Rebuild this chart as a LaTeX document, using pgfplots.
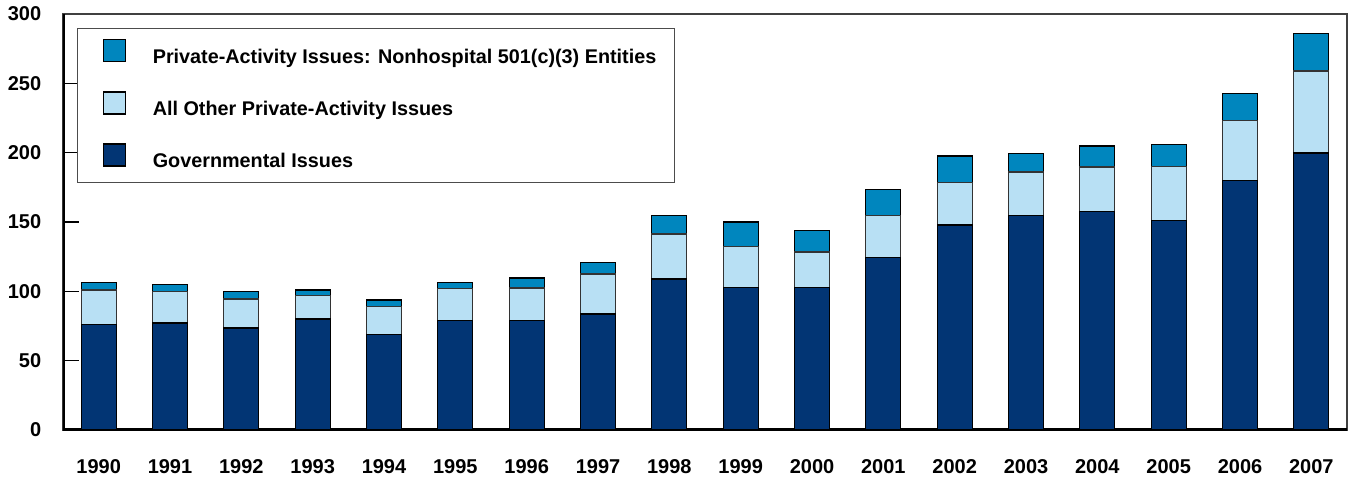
\documentclass[border=0pt]{standalone}
\usepackage{fontspec}
\setmainfont{Liberation Sans}
\usepackage{pgfplots}
\usepackage{pgfplotstable}
\pgfplotsset{compat=1.18}
\definecolor{govc}{RGB}{2,53,116}
\definecolor{othc}{RGB}{184,224,244}
\definecolor{nonc}{RGB}{0,134,190}
\pgfplotstableread{
x gov other non
0 76 25 5.5
1 77.2 22.8 5
2 73.6 20.9 5.5
3 80 16.9 4.1
4 68.8 20.4 4.6
5 78.8 23 4.6
6 78.8 23.6 7.2
7 83.7 28.8 8.4
8 108.9 32.4 13.5
9 102.9 29.6 17.5
10 102.9 25.5 15.6
11 124.3 30.5 18.8
12 147.8 30.8 19
13 154.6 31.4 13.5
14 157.5 32.2 15.1
15 151 39.1 15.9
16 179.8 43.5 19.5
17 199.8 59.1 27.1
}\data
\begin{document}
\begin{tikzpicture}
\begin{axis}[
  scale only axis, width=642pt, height=208pt,
  xmin=-0.5, xmax=17.5, ymin=0, ymax=300,
  ybar stacked, bar width=0.49,
  xtick=data,
  xticklabels={1990,1991,1992,1993,1994,1995,1996,1997,1998,1999,2000,2001,2002,2003,2004,2005,2006,2007},
  ytick={0,50,...,300},
  ytick pos=left,
  tick align=inside,
  major tick length=8pt,
  xtick style={draw=none},
  ytick style={line width=0.8pt, black},
  /pgf/number format/assume math mode=true,
  tick label style={font=\bfseries\fontsize{10}{12}\selectfont},
  yticklabel style={xshift=-7.4pt},
  xticklabel style={yshift=-11pt},
  axis line style={line width=1pt, black!75},
  legend cell align=left,
  reverse legend,
  legend image code/.code={\path (0pt,0pt); \draw[#1, draw=black, line width=0.6pt] (3.5pt,-2pt) rectangle (14.5pt,9pt);},
  legend style={at={(0,1)}, anchor=north west, xshift=7pt, yshift=-7pt,
    draw=black!70, line width=0.6pt, inner xsep=9pt, inner ysep=5.3pt,
    row sep=12pt, column sep=13.5pt,
    nodes={inner sep=0pt, text height=7.5pt, text depth=2pt},
    font=\bfseries\fontsize{9.9}{12}\selectfont},
]
\addplot[fill=govc, draw=black, line width=0.6pt] table[x=x, y=gov] \data;
\addlegendentry{Governmental Issues}
\addplot[fill=othc, draw=black!80, line width=0.6pt] table[x=x, y=other] \data;
\addlegendentry{All Other Private-Activity Issues}
\addplot[fill=nonc, draw=black, line width=0.6pt] table[x=x, y=non] \data;
\addlegendentry{Private-Activity Issues: Nonhospital 501(c)(3) Entities}
\draw[line width=2pt, black] (rel axis cs:0,1) -- (rel axis cs:0,0) -- (rel axis cs:1,0);
\coordinate (O) at (rel axis cs:0,0);
\end{axis}
\pgfresetboundingbox
\path (O) ++(-31.5pt,-23.5pt) rectangle ++(674pt,238.5pt);
\end{tikzpicture}
\end{document}
